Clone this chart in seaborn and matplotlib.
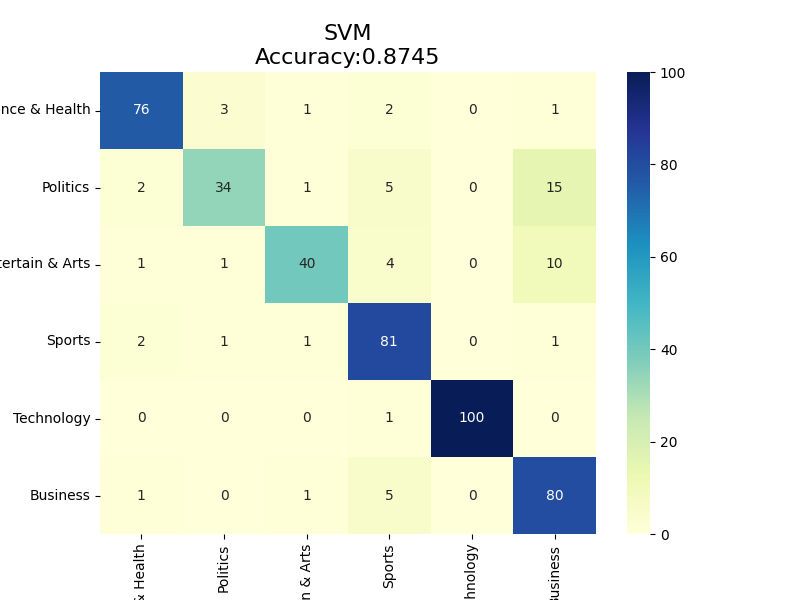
import numpy as np
import pandas as pd
import matplotlib
matplotlib.use("Agg")
import matplotlib.pyplot as plt
import seaborn as sns

labels = ['Science & Health', 'Politics', 'Entertain & Arts', 'Sports', 'Technology', 'Business']
row_science = [76, 3, 1, 2, 0, 1]
row_politics = [2, 34, 1, 5, 0, 15]
row_entertain = [1, 1, 40, 4, 0, 10]
row_sports = [2, 1, 1, 81, 0, 1]
row_tech = [0, 0, 0, 1, 100, 0]
row_business = [1, 0, 1, 5, 0, 80]
accuracy = 0.8745

matrice = pd.DataFrame([row_science, row_politics, row_entertain, row_sports, row_tech, row_business],
                       index=labels, columns=labels)

plt.figure(figsize=(8, 6), dpi=100)
sns.heatmap(matrice, annot=True, fmt='d', cmap='YlGnBu')
plt.title(f"SVM\nAccuracy:{accuracy:.4f}", fontsize=16)
plt.savefig("out.png")
